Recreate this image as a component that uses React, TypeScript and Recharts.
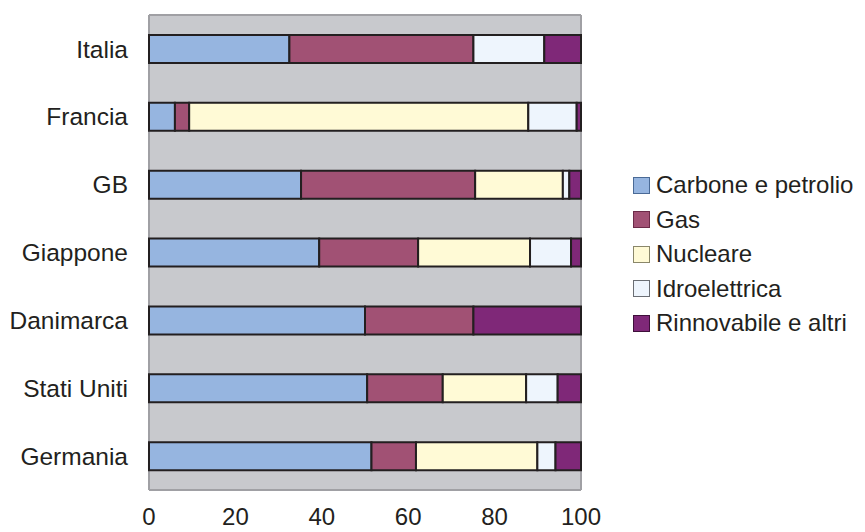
import { BarChart, Bar, XAxis, YAxis, CartesianGrid } from 'recharts'

// Electricity generation mix by country (% of total)
const countries = ['Italia', 'Francia', 'GB', 'Giappone', 'Danimarca', 'Stati Uniti', 'Germania']
const carbone = [32.5, 6.0, 35.2, 39.4, 50.0, 50.5, 51.5]
const gas = [42.6, 3.3, 40.3, 22.9, 25.1, 17.5, 10.3]
const nucleare = [0, 78.5, 20.3, 25.9, 0, 19.3, 28.1]
const idro = [16.4, 11.2, 1.5, 9.5, 0, 7.3, 4.2]
const rinnovabile = [8.5, 1.0, 2.7, 2.3, 24.9, 5.4, 5.9]
const xTicks = [0, 20, 40, 60, 80, 100]

const series = [
  { key: 'carbone', name: 'Carbone e petrolio', color: '#96b5e0', edge: '#4a6a96' },
  { key: 'gas', name: 'Gas', color: '#a15174', edge: '#6b2a48' },
  { key: 'nucleare', name: 'Nucleare', color: '#fffad6', edge: '#8a876a' },
  { key: 'idro', name: 'Idroelettrica', color: '#eef5fd', edge: '#6a6e74' },
  { key: 'rinnovabile', name: 'Rinnovabile e altri', color: '#7f2878', edge: '#3e0f3a' },
]

const data = countries.map((country, i) => ({
  country,
  carbone: carbone[i],
  gas: gas[i],
  nucleare: nucleare[i],
  idro: idro[i],
  rinnovabile: rinnovabile[i],
}))

const font = '"Liberation Sans", Arial, sans-serif'

export default function App() {
  return (
    <div style={{ position: 'absolute', left: 0, top: 0, width: 865, height: 532, background: '#fff', fontFamily: font }}>
      <BarChart
        width={865}
        height={532}
        data={data}
        layout="vertical"
        margin={{ top: 15, right: 284, bottom: 0, left: 0 }}
        barSize={28}
      >
        <CartesianGrid
          fill="#c8c9cd"
          stroke="#a0a0a4"
          strokeWidth={2}
          horizontalCoordinatesGenerator={({ offset }: any) => [offset.top, offset.top + offset.height]}
          verticalCoordinatesGenerator={({ offset }: any) => [offset.left, offset.left + offset.width]}
        />
        <XAxis
          type="number"
          domain={[0, 100]}
          ticks={xTicks}
          axisLine={false}
          tickLine={false}
          tickSize={0}
          tickMargin={18}
          height={42}
          tick={{ fontSize: 24, fill: '#231f20', fontFamily: font }}
        />
        <YAxis
          type="category"
          dataKey="country"
          width={149}
          axisLine={false}
          tickLine={false}
          tickSize={0}
          tickMargin={21}
          tick={{ fontSize: 24.5, fill: '#231f20', fontFamily: font }}
        />
        {series.map((s) => (
          <Bar
            key={s.key}
            dataKey={s.key}
            name={s.name}
            stackId="mix"
            fill={s.color}
            stroke="#231f20"
            strokeWidth={2}
            isAnimationActive={false}
          />
        ))}
      </BarChart>
      <div style={{ position: 'absolute', left: 633, top: 168 }}>
        {series.map((s) => (
          <div key={s.key} style={{ display: 'flex', alignItems: 'center', height: 34.5 }}>
            <span
              style={{
                width: 15,
                height: 15,
                background: s.color,
                border: `1px solid ${s.edge}`,
                marginRight: 6,
              }}
            />
            <span style={{ fontSize: 24, color: '#231f20', lineHeight: 1 }}>{s.name}</span>
          </div>
        ))}
      </div>
    </div>
  )
}
